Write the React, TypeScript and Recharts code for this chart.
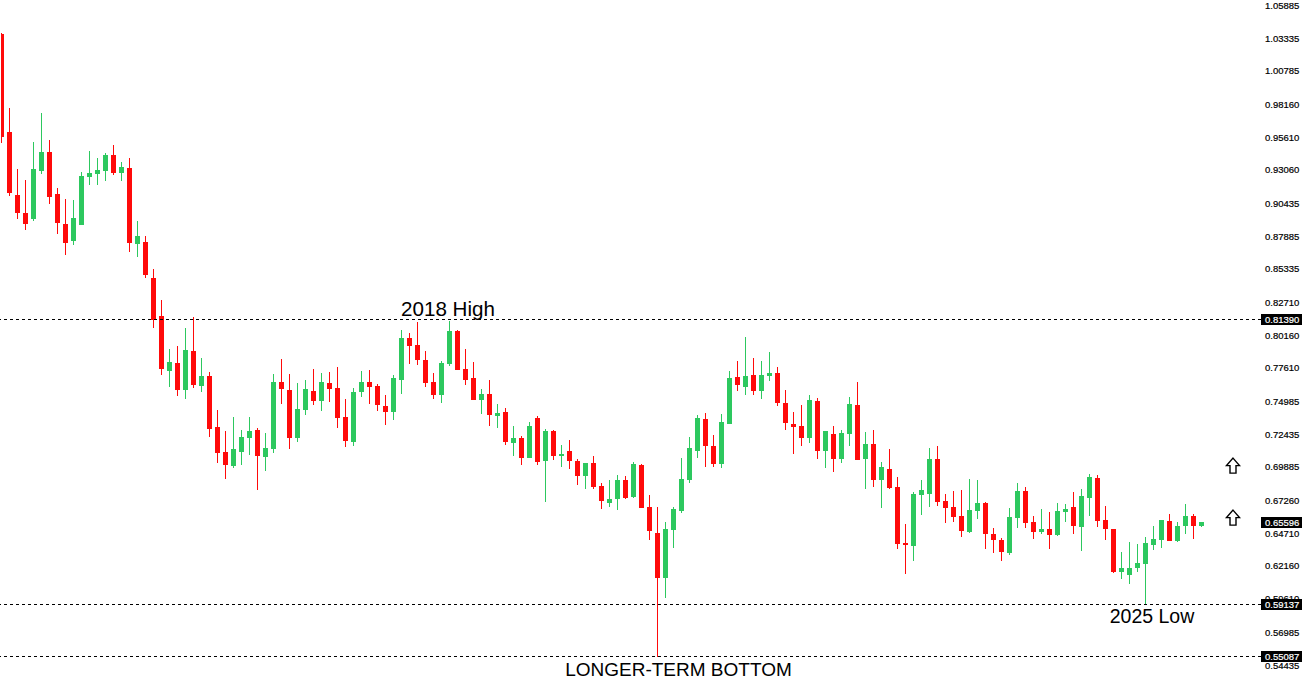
import { Bar, ComposedChart, ReferenceDot, ReferenceLine, XAxis, YAxis } from "recharts";

const opens = [
  1.037, 0.9605, 0.9114, 0.8973, 0.8927, 0.9301, 0.9449, 0.9122, 0.8888, 0.8755,
  0.888, 0.9254, 0.9278, 0.9301, 0.9426, 0.9285, 0.9324, 0.8732, 0.8747, 0.8466,
  0.817, 0.7741, 0.7803, 0.7593, 0.7897, 0.7624, 0.7702, 0.7304, 0.7109, 0.7,
  0.7109, 0.7218, 0.7281, 0.707, 0.7133, 0.7655, 0.7593, 0.7218, 0.7437, 0.7585,
  0.7507, 0.7647, 0.7608, 0.7382, 0.7187, 0.7577, 0.7655, 0.7624, 0.7468, 0.7421,
  0.7671, 0.7998, 0.7944, 0.7827, 0.7655, 0.7554, 0.7796, 0.8053, 0.7757, 0.7686,
  0.7515, 0.7562, 0.739, 0.7421, 0.7179, 0.7218, 0.7062, 0.7374, 0.7039, 0.7273,
  0.7078, 0.7117, 0.7039, 0.6922, 0.7023, 0.6844, 0.6711, 0.6743, 0.6891, 0.6758,
  0.7008, 0.668, 0.6477, 0.6126, 0.6501, 0.6649, 0.6891, 0.7117, 0.7367, 0.7156,
  0.7016, 0.7328, 0.7694, 0.7616, 0.771, 0.7585, 0.7702, 0.7725, 0.7491, 0.7328,
  0.7312, 0.7218, 0.7507, 0.7117, 0.725, 0.7055, 0.725, 0.7476, 0.7055, 0.7172,
  0.6891, 0.6977, 0.6836, 0.6399, 0.6376, 0.6774, 0.6782, 0.7055, 0.6727, 0.668,
  0.661, 0.6485, 0.6649, 0.6711, 0.647, 0.6423, 0.6321, 0.6594, 0.6805, 0.6563,
  0.6485, 0.6509, 0.6462, 0.6641, 0.668, 0.6524, 0.675, 0.6906, 0.6579, 0.6509,
  0.6173, 0.615, 0.6204, 0.6236, 0.6384, 0.6423, 0.6571, 0.6415, 0.6532, 0.661,
  0.6532,
];
const highs = [
  1.0377, 0.9792, 0.9317, 0.9231, 0.9527, 0.9753, 0.9543, 0.9168, 0.9083, 0.9075,
  0.9293, 0.9457, 0.9402, 0.9441, 0.9504, 0.9371, 0.9402, 0.8911, 0.8794, 0.8537,
  0.8295, 0.7913, 0.7936, 0.8076, 0.8162, 0.7842, 0.7733, 0.7437, 0.7273, 0.7382,
  0.7281, 0.7382, 0.7296, 0.7257, 0.7718, 0.7835, 0.7718, 0.7647, 0.7671, 0.7757,
  0.7725, 0.7733, 0.7772, 0.7523, 0.7608, 0.7741, 0.7749, 0.764, 0.7554, 0.771,
  0.8061, 0.8037, 0.8123, 0.7897, 0.7725, 0.7819, 0.8131, 0.8061, 0.7913, 0.7811,
  0.7601, 0.7671, 0.7484, 0.7452, 0.7312, 0.7234, 0.7343, 0.739, 0.7289, 0.7281,
  0.7164, 0.7203, 0.7055, 0.7023, 0.7078, 0.6867, 0.6891, 0.693, 0.6922, 0.7031,
  0.7016, 0.6774, 0.668, 0.6563, 0.668, 0.7062, 0.7226, 0.7398, 0.7413, 0.7242,
  0.7406, 0.7741, 0.7819, 0.8006, 0.7842, 0.7819, 0.7889, 0.7772, 0.7593, 0.7421,
  0.7476, 0.7554, 0.753, 0.7273, 0.7312, 0.7281, 0.7538, 0.7655, 0.7265, 0.7281,
  0.7031, 0.7133, 0.6914, 0.6548, 0.6797, 0.6891, 0.714, 0.7156, 0.6782, 0.6805,
  0.6813, 0.6899, 0.6891, 0.6719, 0.6516, 0.6438, 0.6672, 0.6867, 0.6836, 0.661,
  0.6665, 0.6641, 0.6711, 0.6704, 0.6797, 0.6821, 0.6938, 0.693, 0.6688, 0.6509,
  0.6329, 0.6407, 0.6392, 0.6446, 0.6532, 0.6579, 0.6626, 0.6563, 0.6704, 0.6626,
  0.6563,
];
const lows = [
  0.9519, 0.9106, 0.8927, 0.8841, 0.8911, 0.9278, 0.9044, 0.881, 0.8646, 0.8724,
  0.888, 0.9192, 0.9192, 0.9223, 0.927, 0.9223, 0.8669, 0.863, 0.8466, 0.8076,
  0.771, 0.7616, 0.7546, 0.7523, 0.7608, 0.7577, 0.7226, 0.7023, 0.6899, 0.6984,
  0.7008, 0.7086, 0.6813, 0.6961, 0.7101, 0.7484, 0.7133, 0.7187, 0.7398, 0.7476,
  0.7429, 0.7499, 0.7296, 0.7148, 0.7156, 0.7538, 0.7484, 0.7429, 0.732, 0.7359,
  0.7562, 0.7796, 0.7788, 0.7616, 0.7523, 0.7491, 0.778, 0.7749, 0.7632, 0.7515,
  0.7406, 0.7312, 0.7296, 0.7164, 0.7078, 0.7008, 0.7062, 0.7008, 0.6719, 0.7047,
  0.6992, 0.6977, 0.6852, 0.6821, 0.6821, 0.6665, 0.668, 0.6657, 0.6743, 0.675,
  0.6672, 0.6423, 0.5509, 0.597, 0.636, 0.6633, 0.6867, 0.7062, 0.6992, 0.6992,
  0.6984, 0.7328, 0.7585, 0.7554, 0.7554, 0.7523, 0.7663, 0.7468, 0.7281, 0.7094,
  0.7156, 0.7179, 0.7055, 0.6984, 0.6953, 0.7023, 0.7156, 0.7047, 0.6821, 0.6836,
  0.6672, 0.6821, 0.6353, 0.6158, 0.6259, 0.6618, 0.668, 0.6688, 0.6555, 0.6563,
  0.6446, 0.6477, 0.6587, 0.6353, 0.6321, 0.6259, 0.6306, 0.6516, 0.6516, 0.6431,
  0.647, 0.6353, 0.6454, 0.6563, 0.647, 0.6337, 0.661, 0.6524, 0.6423, 0.6165,
  0.6119, 0.608, 0.6173, 0.5914, 0.6345, 0.636, 0.6415, 0.6407, 0.647, 0.6431,
  0.6524,
];
const closes = [
  0.9566, 0.9129, 0.8973, 0.8888, 0.9317, 0.9449, 0.9098, 0.8895, 0.8739, 0.8934,
  0.9262, 0.9285, 0.9309, 0.9426, 0.9285, 0.9332, 0.8739, 0.8794, 0.849, 0.8139,
  0.7757, 0.7811, 0.7593, 0.7905, 0.7632, 0.7702, 0.7289, 0.7101, 0.7008, 0.7133,
  0.7226, 0.7273, 0.7078, 0.714, 0.7655, 0.7601, 0.7218, 0.7445, 0.7601, 0.7507,
  0.7655, 0.7601, 0.7374, 0.7195, 0.7577, 0.7655, 0.7616, 0.7476, 0.7421, 0.7686,
  0.7998, 0.7936, 0.7827, 0.7647, 0.7554, 0.7803, 0.8053, 0.7749, 0.7671, 0.7515,
  0.7562, 0.7398, 0.7413, 0.7187, 0.7218, 0.7062, 0.7312, 0.7031, 0.7273, 0.7078,
  0.7094, 0.7039, 0.6922, 0.7023, 0.6836, 0.6727, 0.6743, 0.6891, 0.675, 0.7016,
  0.6672, 0.6493, 0.6126, 0.6509, 0.6665, 0.6899, 0.714, 0.7374, 0.7156, 0.7016,
  0.7343, 0.7686, 0.7632, 0.7702, 0.7585, 0.771, 0.7725, 0.7491, 0.7335, 0.7304,
  0.7218, 0.7515, 0.7117, 0.7273, 0.7055, 0.7257, 0.7484, 0.7047, 0.7172, 0.6891,
  0.6992, 0.6828, 0.6392, 0.6384, 0.6782, 0.6813, 0.7055, 0.6719, 0.6672, 0.6602,
  0.6493, 0.6657, 0.6711, 0.647, 0.6423, 0.6329, 0.6602, 0.6805, 0.6555, 0.6485,
  0.6509, 0.6462, 0.6649, 0.6665, 0.6532, 0.6766, 0.6914, 0.6571, 0.6509, 0.6173,
  0.6204, 0.6204, 0.6243, 0.6399, 0.6431, 0.6579, 0.6415, 0.6532, 0.661, 0.6532,
  0.656,
];

const priceTicks = [
  1.05885, 1.03335, 1.00785, 0.9816, 0.9561, 0.9306, 0.90435, 0.87885, 0.85335, 0.8271, 0.8016,
  0.7761, 0.74985, 0.72435, 0.69885, 0.6726, 0.6471, 0.6216, 0.5961, 0.56985, 0.54435,
];
const levels = [0.8139, 0.59137, 0.55087];
const lastPrice = 0.65596;
const arrowPrices = [0.7, 0.6594];
const arrowBar = 154;
const emptyBars = 7;

const notes = [
  { text: "2018 High", bar: 56, price: 0.8212 },
  { text: "2025 Low", bar: 144, price: 0.5816 },
  { text: "LONGER-TERM BOTTOM", bar: 84, price: 0.54 },
];
const noteFont: Record<string, number> = { "2018 High": 20.6, "2025 Low": 19.5, "LONGER-TERM BOTTOM": 19 };
const noteShift: Record<string, number> = { "2018 High": -0.5, "2025 Low": -0.5, "LONGER-TERM BOTTOM": 6 };

const UP = "#2dc85f";
const DOWN = "#ff0a0a";

const data = [...opens, ...Array(emptyBars).fill(null)].map((open, i) =>
  open === null
    ? { bar: i }
    : { bar: i, open, high: highs[i], low: lows[i], close: closes[i] },
);

function Candle({ x, y, width, height, payload }: any) {
  if (payload.open === undefined) return null;
  const { open, high, low, close } = payload;
  const perUnit = height / (high - low);
  const top = y + (high - Math.max(open, close)) * perUnit;
  const bottom = y + (high - Math.min(open, close)) * perUnit;
  const color = close >= open ? UP : DOWN;
  const mid = x + width / 2;
  const left = Math.max(x, 1);
  return (
    <g shapeRendering='crispEdges'>
      <rect x={mid - 0.5} y={y} width={1} height={height} fill={color} />
      <rect x={left} y={top} width={x + width - left} height={Math.max(bottom - top, 1)} fill={color} />
    </g>
  );
}

function PriceTag({ viewBox, value }: any) {
  const right = viewBox.x + viewBox.width;
  return (
    <g>
      <rect x={right + 0.5} y={viewBox.y - 5.5} width={41} height={11} fill='#000' shapeRendering='crispEdges' />
      <text
        x={right + 4.5}
        y={viewBox.y + 3.5}
        fill='#fff'
        stroke='#fff'
        strokeWidth={0.2}
        fontSize={9.5}
        fontFamily='Liberation Sans'
      >
        {value.toFixed(5)}
      </text>
    </g>
  );
}

function UpArrow({ cx, cy }: any) {
  return (
    <path
      d={`M${cx + 0.5} ${cy - 7.5} l6.5 7.5 h-3.5 v7.5 h-6 v-7.5 h-3.5 z`}
      fill='#fff'
      stroke='#000'
      strokeWidth={1.4}
    />
  );
}

export default function App() {
  return (
    <div style={{ position: "absolute", left: 0, top: 0, width: 1302, height: 688, background: "#fff" }}>
      <ComposedChart
        width={1302}
        height={688}
        data={data}
        margin={{ top: 0.6, right: 0, bottom: -0.6, left: -3.5 }}
      >
        <XAxis dataKey='bar' hide />
        <YAxis
          orientation='right'
          width={41.5}
          domain={[0.52606, 1.0627]}
          ticks={priceTicks}
          interval={0}
          axisLine={false}
          tickLine={false}
          tickSize={0}
          tickMargin={4.5}
          tickFormatter={(v: number) => v.toFixed(5)}
          tick={{ fill: "#000", stroke: "#000", strokeWidth: 0.2, fontSize: 9.5, fontFamily: "Liberation Sans" }}
        />
        <Bar
          dataKey={(d: any) => (d.open === undefined ? null : [d.low, d.high])}
          barSize={5}
          shape={<Candle />}
          isAnimationActive={false}
        />
        {levels.map((level) => (
          <ReferenceLine
            key={level}
            y={level}
            stroke='#000'
            strokeDasharray='3 3'
            shapeRendering='crispEdges'
            label={<PriceTag value={level} />}
          />
        ))}
        <ReferenceLine y={lastPrice} stroke='none' label={<PriceTag value={lastPrice} />} />
        {arrowPrices.map((price) => (
          <ReferenceDot key={price} x={arrowBar} y={price} shape={<UpArrow />} />
        ))}
        {notes.map((note) => (
          <ReferenceDot
            key={note.text}
            x={note.bar}
            y={note.price}
            shape={(p: any) => (
              <text
                x={p.cx + noteShift[note.text]}
                y={p.cy}
                textAnchor='middle'
                dominantBaseline='middle'
                fontSize={noteFont[note.text]}
                fontFamily='Liberation Sans'
                fill='#000'
              >
                {note.text}
              </text>
            )}
          />
        ))}
      </ComposedChart>
    </div>
  );
}
